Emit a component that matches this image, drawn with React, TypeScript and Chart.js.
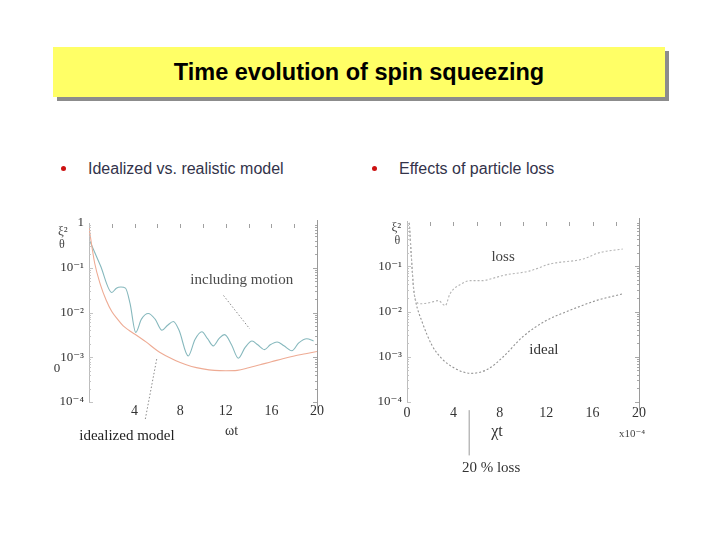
import React, { useEffect, useRef } from "react";
import { Chart, registerables } from "chart.js";
Chart.register(...registerables);

// ---------- Left panel: idealized vs. realistic model ----------
const LEFT_IDEAL_X = [0, 0.5, 1, 1.5, 2, 2.5, 3, 3.5, 4, 5, 6, 7, 8, 9, 10, 11, 12, 13, 14, 15, 16, 17, 18, 19, 20];
const LEFT_IDEAL_Y = [0.79, 0.126, 0.042, 0.019, 0.0105, 0.0071, 0.005, 0.004, 0.0033, 0.0022, 0.0014, 0.001, 0.00076, 0.00062, 0.00055, 0.00051, 0.0005, 0.00051, 0.00058, 0.00068, 0.00079, 0.00093, 0.00107, 0.0012, 0.00135];

const LEFT_MOTION_X = [0.1, 1.0, 2.0, 2.4, 2.8, 3.2, 3.6, 4.1, 4.6, 5.2, 5.8, 6.4, 6.9, 7.4, 7.9, 8.7, 9.3, 9.9, 10.4, 10.9, 11.4, 11.9, 12.5, 13.1, 13.7, 14.3, 14.8, 15.4, 15.9, 16.5, 17.1, 17.8, 18.4, 19.1, 19.7];
const LEFT_MOTION_Y = [0.38, 0.112, 0.028, 0.035, 0.037, 0.035, 0.016, 0.0036, 0.0071, 0.0095, 0.0071, 0.004, 0.0052, 0.0063, 0.004, 0.00107, 0.0025, 0.0037, 0.0026, 0.0018, 0.0026, 0.0032, 0.0019, 0.00095, 0.00166, 0.0023, 0.0019, 0.00148, 0.0019, 0.0022, 0.0018, 0.0014, 0.0021, 0.0026, 0.0023];

const LEFT_X_TICKS = [4, 8, 12, 16, 20];
const LEFT_Y_TICKS = [1, 0.1, 0.01, 0.001, 0.0001];
const LEFT_TOP_TICKS = [2, 4, 6, 8, 10, 12, 14, 16, 18];

// ---------- Right panel: effects of particle loss ----------
const RIGHT_IDEAL_X = [0.2, 0.37, 0.57, 0.75, 1.3, 2.15, 3.0, 4.15, 5.5, 6.9, 8.3, 10, 12, 14, 16.3, 18.6];
const RIGHT_IDEAL_Y = [0.91, 0.17, 0.032, 0.0166, 0.0059, 0.0018, 0.00091, 0.00055, 0.00043, 0.00052, 0.001, 0.0028, 0.0063, 0.0105, 0.0174, 0.0245];

const RIGHT_LOSS_X = [0.2, 0.37, 0.57, 0.8, 1.14, 2.0, 2.7, 3.3, 3.7, 4.7, 5.5, 6.45, 7.6, 8.3, 10.6, 12.3, 15.2, 16.6, 18.6];
const RIGHT_LOSS_Y = [0.91, 0.17, 0.032, 0.0166, 0.0148, 0.0158, 0.0174, 0.0135, 0.0245, 0.041, 0.048, 0.048, 0.056, 0.063, 0.079, 0.112, 0.145, 0.2, 0.24];

const RIGHT_X_TICKS = [0, 4, 8, 12, 16, 20];
const RIGHT_Y_TICKS = [0.1, 0.01, 0.001, 0.0001];
const RIGHT_TOP_TICKS = [2, 4, 6, 8, 10, 12, 14, 16, 18];

const SUP: Record<string, string> = { "-": "⁻", "0": "⁰", "1": "¹", "2": "²", "3": "³", "4": "⁴" };
const powLabel = (v: number) => {
  const e = Math.round(Math.log10(v));
  if (e === 0) return "1";
  return "10" + String(e).split("").map((c) => SUP[c] || c).join("");
};

const SERIF = '"Liberation Serif", "DejaVu Serif", serif';

const decorPlugin = {
  id: "decor",
  afterDraw(chart: any, _args: any, opts: any) {
    const { ctx, chartArea: a, scales } = chart;
    const xs = scales.x;
    const ys = scales.y;
    ctx.save();
    // right axis (solid)
    ctx.strokeStyle = "#9a9a9a";
    ctx.lineWidth = 1;
    ctx.beginPath();
    ctx.moveTo(Math.round(a.right) + 0.5, a.top - 3);
    ctx.lineTo(Math.round(a.right) + 0.5, a.bottom + 8);
    ctx.stroke();
    // minor log ticks on left and right axes
    for (let d = -4; d < 0; d++) {
      for (let m = 1; m <= 9; m++) {
        const py = Math.round(ys.getPixelForValue(m * Math.pow(10, d))) + 0.5;
        const len = m === 1 ? 4 : 2;
        ctx.strokeStyle = "#a8a8a8";
        ctx.beginPath();
        ctx.moveTo(a.right - len, py);
        ctx.lineTo(a.right, py);
        ctx.stroke();
        ctx.strokeStyle = "#c4c4c4";
        ctx.beginPath();
        ctx.moveTo(a.left, py);
        ctx.lineTo(a.left + len, py);
        ctx.stroke();
      }
    }
    // top tick marks
    ctx.strokeStyle = "#a0a0a0";
    for (const v of opts.topTicks) {
      const px = Math.round(xs.getPixelForValue(v)) + 0.5;
      ctx.beginPath();
      ctx.moveTo(px, a.top + 1);
      ctx.lineTo(px, a.top + 5);
      ctx.stroke();
    }
    // pointer lines
    for (const l of opts.lines) {
      ctx.strokeStyle = l.color || "#8a8a8a";
      ctx.lineWidth = 1;
      ctx.setLineDash(l.dash || [1.5, 2]);
      ctx.beginPath();
      ctx.moveTo(xs.getPixelForValue(l.x1), ys.getPixelForValue(l.y1));
      ctx.lineTo(xs.getPixelForValue(l.x2), ys.getPixelForValue(l.y2));
      ctx.stroke();
    }
    ctx.setLineDash([]);
    // texts
    for (const n of opts.notes) {
      ctx.font = `${n.style || ""} ${n.size || 15}px ${SERIF}`;
      ctx.fillStyle = n.color || "#3a3a3a";
      ctx.textAlign = n.align || "center";
      ctx.textBaseline = "middle";
      ctx.fillText(n.text, xs.getPixelForValue(n.x), ys.getPixelForValue(n.y));
    }
    ctx.restore();
  },
};

const LEFT_NOTES = [
  { text: "including motion", x: 13.4, y: 0.053, color: "#4a4a4a" },
  { text: "idealized model", x: 3.33, y: 1.74e-5, color: "#222" },
  { text: "ωt", x: 12.5, y: 2.24e-5, color: "#333", size: 14 },
  { text: "0", x: -2.8, y: 0.00055, color: "#333", size: 13 },
  { text: "ξ²", x: -2.3, y: 0.63, color: "#444", size: 13 },
  { text: "θ", x: -2.37, y: 0.32, color: "#444", size: 12 },
];
const LEFT_LINES = [
  { x1: 11.8, y1: 0.024, x2: 14.1, y2: 0.0043 },
  { x1: 5.94, y1: 0.00091, x2: 4.91, y2: 3.8e-5 },
];

const RIGHT_NOTES = [
  { text: "loss", x: 8.28, y: 0.16, color: "#444" },
  { text: "ideal", x: 11.8, y: 0.0014, color: "#333" },
  { text: "χt", x: 7.76, y: 2.2e-5, color: "#333", size: 16 },
  { text: "x10⁻⁴", x: 19.4, y: 2.0e-5, color: "#444", size: 11 },
  { text: "20 % loss", x: 7.25, y: 3.5e-6, color: "#333" },
  { text: "ξ²", x: -0.92, y: 0.7, color: "#444", size: 13 },
  { text: "θ", x: -0.83, y: 0.36, color: "#444", size: 12 },
];
const RIGHT_LINES = [{ x1: 5.36, y1: 6.6e-5, x2: 5.36, y2: 6.6e-6, dash: [], color: "#999" }];

function makeConfig(p: any) {
  return {
    type: "line",
    data: { datasets: p.datasets },
    options: {
      animation: false,
      responsive: false,
      maintainAspectRatio: false,
      layout: { padding: { top: p.top, right: p.right, left: 0, bottom: 0 } },
      plugins: {
        legend: { display: false },
        tooltip: { enabled: false },
        decor: { topTicks: p.topTicks, notes: p.notes, lines: p.lines },
      },
      scales: {
        x: {
          type: "linear",
          min: 0,
          max: 20,
          afterBuildTicks: (s: any) => {
            s.ticks = p.xTicks.map((v: number) => ({ value: v }));
          },
          afterFit: (s: any) => {
            s.height = p.bottom;
          },
          grid: { display: false, drawTicks: false },
          border: { display: false },
          ticks: {
            autoSkip: false,
            maxRotation: 0,
            padding: p.xPad,
            color: "#333",
            font: { family: SERIF, size: 14 },
          },
        },
        y: {
          type: "logarithmic",
          min: 1e-4,
          max: 1,
          afterBuildTicks: (s: any) => {
            s.ticks = p.yTicks.map((v: number) => ({ value: v }));
          },
          afterFit: (s: any) => {
            s.width = p.left;
          },
          grid: { display: false, drawTicks: false },
          border: { display: true, color: "#bdbdbd", dash: [1, 2] },
          ticks: {
            autoSkip: false,
            padding: 5,
            color: "#333",
            font: { family: SERIF, size: 13 },
            callback: (v: any) => powLabel(Number(v)),
          },
        },
      },
    },
    plugins: [decorPlugin],
  };
}

const pts = (xs: number[], ys: number[]) => xs.map((x, i) => ({ x, y: ys[i] }));

function PlotCanvas({ config, style, width, height }: any) {
  const ref = useRef<HTMLCanvasElement>(null);
  useEffect(() => {
    const chart = new Chart(ref.current as HTMLCanvasElement, config);
    return () => chart.destroy();
  }, []);
  return <canvas ref={ref} width={width} height={height} style={{ position: "absolute", ...style }} />;
}

export default function App() {
  const leftConfig = makeConfig({
    datasets: [
      {
        data: pts(LEFT_IDEAL_X, LEFT_IDEAL_Y),
        borderColor: "#eeab94",
        borderWidth: 1.1,
        pointRadius: 0,
        cubicInterpolationMode: "monotone",
      },
      {
        data: pts(LEFT_MOTION_X, LEFT_MOTION_Y),
        borderColor: "#86b8bd",
        borderWidth: 1.1,
        pointRadius: 0,
        cubicInterpolationMode: "monotone",
      },
    ],
    top: 23,
    right: 23,
    left: 49,
    bottom: 58,
    xPad: 1,
    xTicks: LEFT_X_TICKS,
    yTicks: LEFT_Y_TICKS,
    topTicks: LEFT_TOP_TICKS,
    notes: LEFT_NOTES,
    lines: LEFT_LINES,
  });

  const rightConfig = makeConfig({
    datasets: [
      {
        data: pts(RIGHT_LOSS_X, RIGHT_LOSS_Y),
        borderColor: "#b4b4b4",
        borderWidth: 1.1,
        borderDash: [2, 2],
        pointRadius: 0,
        cubicInterpolationMode: "monotone",
      },
      {
        data: pts(RIGHT_IDEAL_X, RIGHT_IDEAL_Y),
        borderColor: "#939393",
        borderWidth: 1.1,
        borderDash: [2, 2],
        pointRadius: 0,
        cubicInterpolationMode: "monotone",
      },
    ],
    top: 21,
    right: 21,
    left: 47,
    bottom: 78,
    xPad: 3,
    xTicks: RIGHT_X_TICKS,
    yTicks: RIGHT_Y_TICKS,
    topTicks: RIGHT_TOP_TICKS,
    notes: RIGHT_NOTES,
    lines: RIGHT_LINES,
  });

  const sans = '"Liberation Sans", Arial, sans-serif';
  return (
    <div style={{ position: "fixed", left: 0, top: 0, width: 720, height: 540, background: "#fff", overflow: "hidden" }}>
      <div style={{ position: "absolute", left: 57, top: 51, width: 612, height: 50, background: "#8c8c8c" }} />
      <div
        style={{
          position: "absolute",
          left: 53,
          top: 47,
          width: 612,
          height: 50,
          background: "#ffff66",
          display: "flex",
          alignItems: "center",
          justifyContent: "center",
          fontFamily: sans,
          fontWeight: "bold",
          fontSize: 23.5,
          color: "#000",
          paddingTop: 1,
          boxSizing: "border-box",
        }}
      >
        Time evolution of spin squeezing
      </div>

      <div style={{ position: "absolute", left: 61, top: 166, width: 5, height: 5, borderRadius: "50%", background: "#cc1111" }} />
      <div style={{ position: "absolute", left: 88, top: 160, fontFamily: sans, fontSize: 16, color: "#33334a", whiteSpace: "nowrap" }}>
        Idealized vs. realistic model
      </div>
      <div style={{ position: "absolute", left: 372, top: 166, width: 5, height: 5, borderRadius: "50%", background: "#cc1111" }} />
      <div style={{ position: "absolute", left: 399, top: 160, fontFamily: sans, fontSize: 16, color: "#33334a", whiteSpace: "nowrap" }}>
        Effects of particle loss
      </div>

      <PlotCanvas config={leftConfig} width={300} height={260} style={{ left: 40, top: 200 }} />
      <PlotCanvas config={rightConfig} width={300} height={280} style={{ left: 360, top: 200 }} />
    </div>
  );
}
